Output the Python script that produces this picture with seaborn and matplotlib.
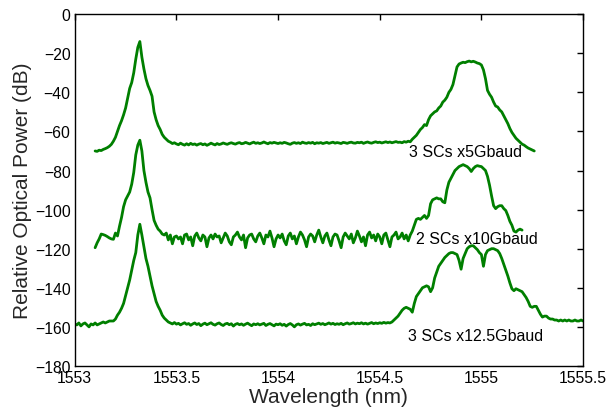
import numpy as np
import matplotlib
matplotlib.use('Agg')
import matplotlib.pyplot as plt
import seaborn as sns

sns.set_style('white')
plt.rcParams['font.family'] = ['Liberation Sans', 'DejaVu Sans']

# OSA sampling step (nm)
step = 0.01

# 3 SCs x5Gbaud, starts at 1553.10 nm
start_5g = 1553.10
power_5g = [
    -70.0, -70.2, -69.6, -69.8, -69.2, -68.8, -68.3, -67.6, -66.6, -65.0,
    -63.0, -60.0, -57.0, -54.5, -51.5, -48.0, -43.0, -38.0, -35.0, -30.0,
    -23.0, -17.0, -14.0, -22.0, -28.0, -33.0, -36.5, -39.0, -42.0, -50.0,
    -54.0, -57.0, -59.0, -61.5, -63.0, -64.0, -65.0, -65.5, -66.2, -65.8,
    -66.4, -66.8, -66.0, -66.6, -67.0, -66.3, -66.9, -66.1, -66.7, -66.4,
    -67.0, -66.5, -66.2, -66.8, -66.4, -67.1, -66.6, -66.0, -66.5, -66.9,
    -66.2, -66.7, -66.4, -65.9, -66.3, -66.6, -66.1, -65.8, -66.2, -66.5,
    -66.0, -65.7, -66.3, -66.1, -65.6, -66.0, -66.4, -65.9, -65.5, -66.1,
    -65.8, -66.2, -65.9, -65.4, -65.9, -66.3, -65.7, -66.0, -65.6, -65.9,
    -66.2, -65.8, -66.1, -65.6, -65.9, -66.3, -66.6, -66.0, -65.7, -66.1,
    -65.8, -66.2, -65.5, -65.9, -66.1, -65.7, -66.0, -65.6, -66.3, -65.8,
    -66.0, -65.7, -66.2, -65.9, -65.6, -66.1, -65.8, -65.5, -66.0, -65.7,
    -65.9, -66.2, -65.6, -65.8, -66.1, -65.7, -65.5, -65.9, -66.0, -65.6,
    -65.8, -65.5, -66.1, -65.7, -65.4, -65.8, -66.0, -65.6, -65.3, -65.7,
    -65.5, -65.9, -65.6, -65.3, -65.7, -65.4, -65.8, -65.5, -65.2, -65.6,
    -65.5, -65.8, -65.2, -65.5, -65.0, -65.3, -64.0, -63.0, -62.0, -60.5,
    -59.0, -58.0, -56.5, -57.0, -54.0, -52.0, -51.0, -50.0, -49.5, -48.0,
    -47.0, -45.0, -44.0, -42.5, -40.0, -38.5, -36.0, -31.5, -27.0, -25.5,
    -25.0, -24.6, -24.8, -24.3, -24.0, -24.4, -24.1, -24.5, -25.0, -25.3,
    -26.0, -28.5, -33.0, -39.0, -41.0, -42.5, -45.0, -47.0, -47.5, -49.0,
    -50.0, -52.0, -54.0, -56.0, -58.5, -60.5, -62.0, -63.5, -64.5, -65.5,
    -66.5, -67.0, -67.8, -68.5, -69.0, -69.5, -70.0,
]

# 2 SCs x10Gbaud, starts at 1553.10 nm
start_10g = 1553.10
power_10g = [
    -119.5, -117.0, -115.0, -112.5, -112.8, -113.2, -113.8, -114.5, -115.0, -115.2,
    -112.0, -113.5, -108.5, -104.0, -98.5, -95.0, -93.0, -91.0, -87.0, -81.0,
    -72.0, -67.0, -64.5, -70.0, -80.0, -86.0, -91.0, -94.0, -100.0, -105.5,
    -108.0, -110.0, -111.0, -112.5, -113.0, -112.0, -115.5, -113.0, -117.5, -114.0,
    -113.5, -115.0, -114.0, -117.5, -113.0, -112.5, -115.5, -114.0, -118.5, -113.5,
    -112.0, -114.5, -116.0, -113.0, -114.0, -119.0, -114.5, -113.0, -115.0, -112.5,
    -114.0, -113.5, -117.0, -114.5, -112.0, -113.5, -116.5, -118.0, -114.0, -113.0,
    -111.5, -114.0, -115.5, -113.0, -119.5, -114.5, -113.0, -112.5, -115.0, -116.5,
    -113.5, -112.0, -114.5, -117.5, -113.0, -114.0, -111.0, -114.5, -119.0, -115.0,
    -113.0, -114.5, -112.5, -116.0, -118.0, -113.5, -112.0, -115.0, -113.5, -117.5,
    -114.0, -111.5, -113.0, -115.5, -119.0, -114.0, -112.5, -113.5, -116.5, -113.0,
    -110.5, -114.0, -117.0, -113.5, -112.0, -115.5, -118.5, -114.0, -112.5, -113.0,
    -116.0, -119.5, -114.0, -112.0, -113.5, -115.0, -112.5, -117.0, -114.5, -111.0,
    -113.5, -116.5, -114.0, -118.5, -113.0, -111.5, -114.5, -113.0, -116.0, -112.5,
    -114.0, -117.5, -113.0, -112.0, -115.5, -119.0, -114.0, -113.0, -111.5, -115.0,
    -114.0, -112.0, -115.0, -113.0, -116.0, -113.0, -111.0, -108.0, -105.0, -104.5,
    -105.0, -104.0, -103.0, -104.5, -103.0, -97.0, -95.0, -94.5, -94.0, -94.5,
    -94.5, -96.0, -96.5, -90.0, -86.0, -84.0, -82.0, -80.0, -79.0, -78.0,
    -77.5, -77.0, -77.5, -78.0, -79.0, -80.5, -79.0, -78.0, -77.5, -77.8,
    -78.0, -79.0, -80.0, -83.0, -87.5, -93.0, -98.0, -99.5, -98.5, -98.0,
    -98.0, -99.5, -100.5, -103.0, -106.0, -108.0, -111.0, -111.5, -110.5, -110.0,
    -110.5,
]

# 3 SCs x12.5Gbaud, starts at 1553.00 nm
start_12g = 1553.00
power_12g = [
    -158.5, -159.0, -158.0, -159.5, -158.5, -158.0, -159.0, -160.0, -158.5, -159.0,
    -158.0, -159.0, -158.5, -158.0, -157.5, -158.0, -157.5, -157.0, -157.0, -157.0,
    -156.0, -154.0, -152.5, -150.5, -148.0, -144.0, -140.0, -136.0, -131.0, -126.0,
    -122.0, -113.0, -107.5, -113.0, -119.0, -125.0, -129.0, -134.0, -139.0, -143.0,
    -147.0, -149.5, -151.5, -154.0, -155.5, -156.5, -157.5, -158.0, -158.5, -157.8,
    -158.6, -158.2, -159.0, -158.4, -157.9, -158.7, -158.3, -159.2, -158.5, -158.0,
    -158.8, -158.3, -159.4, -158.6, -158.1, -158.9, -158.4, -157.9, -158.7, -159.1,
    -158.4, -158.0, -158.8, -159.3, -158.5, -158.2, -158.9, -158.4, -159.6, -158.7,
    -158.3, -158.9, -158.5, -159.2, -158.6, -158.1, -158.8, -159.4, -158.5, -158.9,
    -158.4, -159.0, -158.6, -158.2, -159.3, -158.7, -158.3, -158.9, -159.5, -158.6,
    -158.9, -158.4, -159.2, -158.7, -159.6, -158.8, -158.3, -159.0, -160.0, -158.9,
    -158.5, -159.1, -158.6, -158.2, -159.0, -158.7, -159.3, -158.4, -158.9, -158.5,
    -158.1, -158.7, -158.3, -158.9, -158.5, -158.0, -158.6, -158.2, -158.8, -158.4,
    -158.7, -158.2, -158.9, -158.4, -158.0, -158.6, -158.3, -157.9, -158.5, -158.1,
    -158.4, -157.9, -158.5, -158.1, -158.6, -158.2, -157.8, -158.4, -158.0, -158.3,
    -157.9, -158.2, -157.7, -158.1, -157.8, -158.0, -157.5, -156.5, -155.5, -154.5,
    -153.0, -151.5, -150.5, -150.0, -150.5, -151.0, -152.5, -148.0, -144.5, -143.0,
    -141.5, -140.0, -139.5, -139.0, -139.5, -142.0, -140.0, -135.0, -132.0, -129.0,
    -127.5, -126.0, -124.5, -123.5, -122.5, -122.0, -122.0, -122.5, -123.0, -126.0,
    -130.5, -125.0, -122.5, -120.0, -119.0, -118.5, -118.5, -119.5, -120.5, -122.0,
    -123.0, -129.0, -123.0, -121.0, -120.5, -120.0, -120.0, -120.5, -121.0, -122.5,
    -125.0, -128.0, -131.0, -134.0, -137.5, -140.5, -141.5, -140.5, -141.0, -141.5,
    -142.0, -143.5, -145.0, -147.0, -149.5, -150.0, -149.5, -149.5, -151.5, -153.5,
    -155.0, -154.5, -154.5, -155.5, -156.0, -156.0, -156.5, -156.5, -157.0, -156.5,
    -157.0, -156.5, -157.0, -156.5, -157.0, -157.0, -156.5, -157.0, -157.0, -156.5,
    -157.0,
]

trace_labels = ['3 SCs x5Gbaud', '2 SCs x10Gbaud', '3 SCs x12.5Gbaud']
label_wl = [1554.92, 1554.98, 1554.97]
label_db = [-70.5, -115.0, -164.5]

x_ticks = [1553, 1553.5, 1554, 1554.5, 1555, 1555.5]
x_tick_labels = ['1553', '1553.5', '1554', '1554.5', '1555', '1555.5']
y_ticks = [-180, -160, -140, -120, -100, -80, -60, -40, -20, 0]

fig, ax = plt.subplots(figsize=(6.08, 4.10), dpi=100)
fig.subplots_adjust(left=0.123, right=0.959, bottom=0.105, top=0.963)

line_color = '#007f00'
for start, power in [(start_5g, power_5g), (start_10g, power_10g), (start_12g, power_12g)]:
    wl = start + step * np.arange(len(power))
    sns.lineplot(x=wl, y=power, ax=ax, color=line_color, lw=2.0,
                 estimator=None, sort=False)

for txt, xw, yd in zip(trace_labels, label_wl, label_db):
    ax.text(xw, yd, txt, ha='center', va='center', fontsize=11.5, color='black')

ax.set_xlim(1553, 1555.5)
ax.set_ylim(-180, 0)
ax.set_xticks(x_ticks)
ax.set_xticklabels(x_tick_labels)
ax.set_yticks(y_ticks)
ax.tick_params(direction='in', top=True, right=True, length=4, width=1,
               labelsize=11.3, pad=3, colors='black')
for sp in ax.spines.values():
    sp.set_color('black')
    sp.set_linewidth(1.0)

ax.set_xlabel('Wavelength (nm)', fontsize=15, labelpad=1)
ax.set_ylabel('Relative Optical Power (dB)', fontsize=15, labelpad=2)

fig.savefig('out.png', dpi=100)
